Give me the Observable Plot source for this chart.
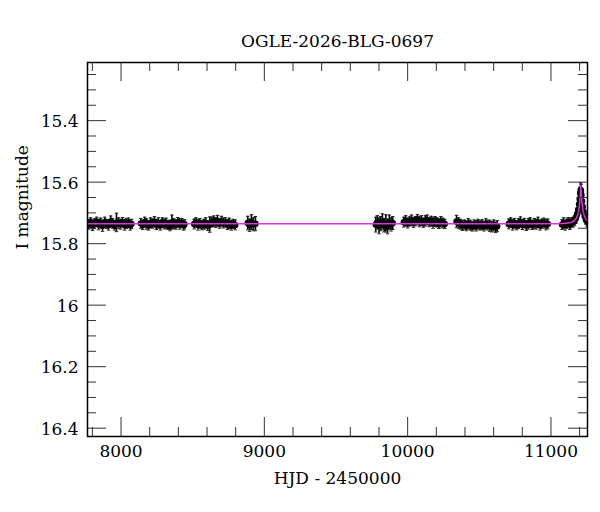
<!DOCTYPE html>
<html>
<head>
<meta charset="utf-8">
<script src="https://cdn.jsdelivr.net/npm/d3@7"></script>
<script src="https://cdn.jsdelivr.net/npm/@observablehq/plot@0.6"></script>
<style>
  html, body { margin: 0; padding: 0; background: #fff; }
</style>
</head>
<body>
<div id="chart"></div>
<script>
const title = "OGLE-2026-BLG-0697";
const xLabel = "HJD - 2450000";
const yLabel = "I magnitude";
const xMajorTicks = [8000, 9000, 10000, 11000];
const yMajorTicks = [15.4, 15.6, 15.8, 16, 16.2, 16.4];

// Observing seasons: times (HJD-2450000), I magnitudes, errors
const s1t = [7774,7788,7801,7815,7830,7843,7858,7871,7886,7899,7913,7928,7941,7955,7968,7982,7996,8010,8024,8037,8051,8064,8073];
const s1m = [15.737,15.731,15.740,15.735,15.729,15.738,15.733,15.742,15.730,15.736,15.739,15.728,15.734,15.741,15.731,15.733,15.737,15.730,15.739,15.735,15.732,15.740,15.736];
const s1e = [0.016,0.015,0.017,0.016,0.015,0.017,0.016,0.018,0.016,0.015,0.017,0.018,0.016,0.015,0.030,0.017,0.016,0.015,0.017,0.016,0.015,0.016,0.015];

const s2t = [8138,8151,8165,8178,8192,8206,8219,8233,8246,8260,8274,8287,8301,8314,8328,8342,8355,8369,8383,8396,8410,8424,8437,8443];
const s2m = [15.734,15.739,15.730,15.736,15.741,15.732,15.735,15.729,15.738,15.733,15.740,15.731,15.736,15.734,15.739,15.742,15.730,15.735,15.738,15.731,15.736,15.733,15.740,15.737];
const s2e = [0.016,0.015,0.016,0.017,0.015,0.016,0.015,0.017,0.016,0.017,0.016,0.015,0.016,0.017,0.015,0.016,0.023,0.016,0.015,0.016,0.017,0.015,0.016,0.015];

const s3t = [8510,8523,8537,8550,8564,8578,8591,8605,8619,8632,8646,8660,8673,8687,8701,8714,8728,8742,8755,8769,8783,8797];
const s3m = [15.736,15.731,15.739,15.734,15.740,15.737,15.733,15.741,15.738,15.730,15.727,15.731,15.726,15.734,15.728,15.733,15.731,15.738,15.734,15.740,15.736,15.739];
const s3e = [0.016,0.015,0.017,0.016,0.015,0.016,0.017,0.016,0.025,0.016,0.017,0.016,0.018,0.016,0.017,0.016,0.015,0.016,0.017,0.016,0.015,0.016];

const s4t = [8884,8897,8910,8924,8938];
const s4m = [15.733,15.740,15.730,15.737,15.735];
const s4e = [0.022,0.020,0.024,0.021,0.023];

const s5t = [9777,9788,9800,9812,9824,9836,9848,9860,9872,9884,9896];
const s5m = [15.738,15.731,15.742,15.735,15.728,15.740,15.734,15.744,15.730,15.737,15.733];
const s5e = [0.024,0.022,0.026,0.023,0.025,0.022,0.028,0.024,0.023,0.022,0.021];

const s6t = [9973,9986,10000,10013,10027,10041,10054,10068,10082,10095,10109,10123,10136,10150,10164,10177,10191,10205,10218,10232,10246,10259];
const s6m = [15.730,15.726,15.733,15.728,15.724,15.731,15.727,15.722,15.729,15.725,15.732,15.726,15.723,15.730,15.727,15.733,15.728,15.731,15.735,15.729,15.733,15.736];
const s6e = [0.016,0.017,0.016,0.015,0.017,0.016,0.015,0.017,0.016,0.016,0.015,0.017,0.016,0.015,0.016,0.017,0.016,0.015,0.016,0.017,0.016,0.015];

const s7t = [10341,10355,10368,10382,10396,10409,10423,10437,10450,10464,10478,10491,10505,10519,10532,10546,10560,10573,10587,10601,10614,10625];
const s7m = [15.728,15.733,15.737,15.741,15.738,15.742,15.736,15.740,15.744,15.739,15.742,15.737,15.741,15.738,15.743,15.736,15.740,15.742,15.745,15.741,15.747,15.743];
const s7e = [0.020,0.017,0.016,0.016,0.015,0.016,0.017,0.016,0.015,0.016,0.017,0.016,0.015,0.016,0.016,0.017,0.016,0.018,0.017,0.018,0.017,0.018];

const s8t = [10705,10719,10732,10746,10760,10773,10787,10801,10814,10828,10842,10855,10869,10883,10896,10910,10924,10937,10951,10965,10978];
const s8m = [15.736,15.731,15.739,15.734,15.740,15.735,15.730,15.738,15.733,15.741,15.736,15.732,15.739,15.734,15.737,15.731,15.740,15.735,15.733,15.738,15.736];
const s8e = [0.016,0.015,0.017,0.016,0.015,0.016,0.017,0.016,0.015,0.016,0.017,0.016,0.015,0.016,0.016,0.017,0.016,0.015,0.016,0.017,0.016];

const s9t = [11077,11088,11099,11110,11121,11132,11143,11154,11165,11175,11183,11190,11196,11200,11204,11207,11210,11213,11217,11222,11228,11235,11243,11251];
const s9m = [15.738,15.733,15.740,15.735,15.731,15.737,15.732,15.730,15.725,15.716,15.704,15.690,15.672,15.655,15.636,15.625,15.628,15.642,15.662,15.680,15.697,15.710,15.720,15.727];
const s9e = [0.016,0.017,0.016,0.015,0.016,0.017,0.016,0.016,0.017,0.018,0.019,0.018,0.019,0.020,0.021,0.023,0.021,0.020,0.019,0.020,0.018,0.019,0.017,0.018];

// Model curve
const modelT = [7766,11050,11120,11150,11170,11182,11190,11196,11200,11204,11206.5,11208.5,11210.5,11213,11217,11221,11227,11235,11245,11255];
const modelM = [15.735,15.735,15.733,15.729,15.722,15.712,15.700,15.685,15.668,15.645,15.626,15.611,15.624,15.644,15.668,15.684,15.700,15.712,15.721,15.727];

const seasons = [[s1t,s1m,s1e],[s2t,s2m,s2e],[s3t,s3m,s3e],[s4t,s4m,s4e],[s5t,s5m,s5e],[s6t,s6m,s6e],[s7t,s7m,s7e],[s8t,s8m,s8e],[s9t,s9m,s9e]];
const obs = seasons.flatMap(([t, m, e]) => t.map((ti, i) => ({t: ti, m: m[i], e: e[i]})));
const model = modelT.map((t, i) => ({t, m: modelM[i]}));

const xMinorTicks = d3.range(7800, 11300, 200).filter(v => v % 1000 !== 0);
const yMinorTicks = d3.range(0, 24).map(i => +(15.25 + i * 0.05).toFixed(2)).filter(v => !yMajorTicks.some(y => Math.abs(y - v) < 1e-6));

const W = 600, H = 512, mT = 62, mB = 76, mL = 87, mR = 13;
const iw = W - mL - mR, ih = H - mT - mB;
const major = 19, minor = 9;
const fs = 17;

const chart = Plot.plot({
  width: W, height: H,
  marginTop: mT, marginBottom: mB, marginLeft: mL, marginRight: mR,
  style: {fontFamily: "'DejaVu Serif', 'Liberation Serif', serif", fontSize: fs + "px", background: "#fff", color: "#000"},
  x: {domain: [7766, 11255], axis: null},
  y: {domain: [15.211, 16.427], reverse: true, axis: null},
  marks: [
    // error bars
    Plot.ruleX(obs, {x: "t", y1: d => d.m - d.e, y2: d => d.m + d.e, stroke: "#000", strokeWidth: 1.6, clip: true}),
    Plot.link(obs, {x1: d => d.t - 12, x2: d => d.t + 12, y1: d => d.m - d.e, y2: d => d.m - d.e, stroke: "#222", strokeWidth: 1, clip: true}),
    Plot.link(obs, {x1: d => d.t - 12, x2: d => d.t + 12, y1: d => d.m + d.e, y2: d => d.m + d.e, stroke: "#222", strokeWidth: 1, clip: true}),
    Plot.dot(obs, {x: "t", y: "m", r: 3.2, fill: "#000", stroke: "none", clip: true}),
    // model
    Plot.line(model, {x: "t", y: "m", stroke: "#e030e0", strokeWidth: 1.5, curve: "monotone-x", clip: true}),
    // ticks: bottom & top (x), left & right (y)
    Plot.tickX(xMajorTicks, {x: d => d, insetTop: ih - major, stroke: "#333", strokeWidth: 1}),
    Plot.tickX(xMinorTicks, {x: d => d, insetTop: ih - minor, stroke: "#333", strokeWidth: 1}),
    Plot.tickX(xMajorTicks, {x: d => d, insetBottom: ih - major, stroke: "#333", strokeWidth: 1}),
    Plot.tickX(xMinorTicks, {x: d => d, insetBottom: ih - minor, stroke: "#333", strokeWidth: 1}),
    Plot.tickY(yMajorTicks, {y: d => d, insetRight: iw - major, stroke: "#333", strokeWidth: 1}),
    Plot.tickY(yMinorTicks, {y: d => d, insetRight: iw - minor, stroke: "#333", strokeWidth: 1}),
    Plot.tickY(yMajorTicks, {y: d => d, insetLeft: iw - major, stroke: "#333", strokeWidth: 1}),
    Plot.tickY(yMinorTicks, {y: d => d, insetLeft: iw - minor, stroke: "#333", strokeWidth: 1}),
    // tick labels
    Plot.text(xMajorTicks, {x: d => d, frameAnchor: "bottom", dy: 20, text: d => String(d), fontSize: fs, fill: "#000"}),
    Plot.text(yMajorTicks, {y: d => d, frameAnchor: "left", dx: -9, dy: 1, textAnchor: "end", text: d => String(d), fontSize: fs, fill: "#000"}),
    // frame
    Plot.frame({stroke: "#000", strokeWidth: 1.5}),
    // titles
    Plot.text([title], {frameAnchor: "top", dy: -28, fontSize: fs, fill: "#000"}),
    Plot.text([xLabel], {frameAnchor: "bottom", dy: 47, fontSize: fs, fill: "#000"}),
    Plot.text([yLabel], {frameAnchor: "left", dx: -65, rotate: -90, fontSize: fs, fill: "#000"})
  ]
});
document.getElementById("chart").appendChild(chart);
</script>
</body>
</html>
